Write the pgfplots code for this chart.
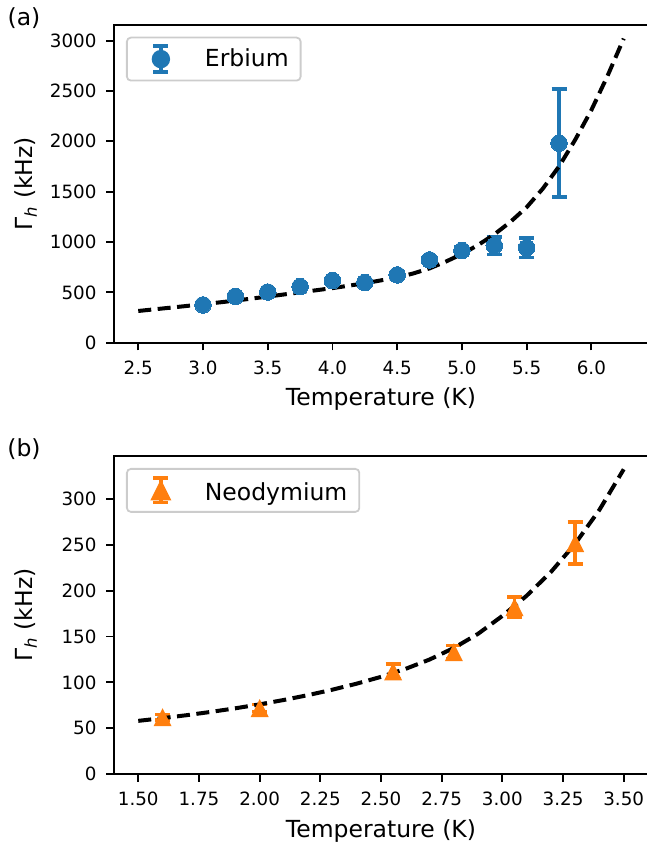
\documentclass[border=0pt]{standalone}
\usepackage{fontspec}
\setmainfont{DejaVu Sans}
\usepackage{pgfplots}
\usepackage{pgfplotstable}
\pgfplotsset{compat=1.18}
\definecolor{c0}{HTML}{1F77B4}
\definecolor{c1}{HTML}{FF7F0E}
\pgfdeclareplotmark{mtri}{%
 \pgfpathmoveto{\pgfqpoint{0pt}{\pgfplotmarksize}}%
 \pgfpathlineto{\pgfqpoint{-\pgfplotmarksize}{-\pgfplotmarksize}}%
 \pgfpathlineto{\pgfqpoint{\pgfplotmarksize}{-\pgfplotmarksize}}%
 \pgfpathclose\pgfusepathqfill}
\newcommand\tickfont{\fontsize{18.3}{20}\selectfont}
\newcommand\labfont{\fontsize{23.5}{26}\selectfont}

\pgfplotstableread{
x y e
3.00 375 25
3.25 460 25
3.50 503 25
3.75 557 30
4.00 617 30
4.25 597 30
4.50 673 30
4.75 822 35
5.00 915 40
5.25 963 85
5.50 943 95
5.75 1982 537
}\erbium
\pgfplotstableread{
x y
2.5 315
2.75 348
3.0 382
3.25 418
3.5 458
3.75 500
4.0 542
4.25 590
4.5 648
4.625 688
4.75 738
4.875 805
5.0 880
5.125 970
5.25 1075
5.375 1200
5.5 1345
5.625 1530
5.75 1750
5.875 2015
6.0 2310
6.125 2650
6.25 3020
}\erfit
\pgfplotstableread{
x y e
1.60 62 3
2.00 72 4
2.55 112 8
2.80 133 7
3.05 182 11
3.30 252 23
}\neod
\pgfplotstableread{
x y
1.5 58
1.6 60.9
1.7 64.2
1.8 67.8
1.9 71.7
2.0 76
2.1 80.8
2.2 86.1
2.3 92
2.4 98.6
2.5 106
2.6 114.6
2.7 124.9
2.8 137.5
2.9 153
3.0 172.5
3.1 194.5
3.2 220.4
3.3 251.3
3.4 288.3
3.5 332.5
}\ndfit

\pgfplotsset{panel/.style={
  scale only axis, width=534pt, height=318pt,
  axis line style={line width=1.8pt},
  tick align=outside, xtick pos=left, ytick pos=left,
  major tick length=7.7pt,
  every tick/.style={line width=1.8pt, black},
  ticklabel style={font=\tickfont},
  xticklabel style={inner sep=0pt, anchor=north},
  yticklabel style={inner sep=0pt, anchor=east},
  xticklabel shift=10.3pt, yticklabel shift=9.6pt,
  label style={font=\labfont},
  xlabel style={at={(axis description cs:0.5,-0.1415)}, anchor=north, inner sep=0pt},
  ylabel style={at={(axis description cs:-0.1648,0.5)}, anchor=center, inner sep=0pt},
  xlabel={Temperature (K)},
  ylabel={Γ\textsubscript{\textit{h}} (kHz)},
  legend style={at={(axis description cs:0,1)}, anchor=north west, xshift=12pt, yshift=-12pt,
    draw=black!20, line width=1.8pt, rounded corners=4pt, fill=white, fill opacity=0.8,
    text opacity=1, inner xsep=12pt, inner ysep=0pt, column sep=6pt, font=\labfont,
    nodes={inner sep=0pt}},
  legend cell align=left,
 }}

\begin{document}
\begin{tikzpicture}[x=1pt,y=1pt]
\begin{axis}[panel, at={(114pt,501.3pt)}, anchor=south west,
  xmin=2.3125, xmax=6.4375, ymin=0, ymax=3158,
  xtick={2.5,3,...,6}, xticklabels={2.5,3.0,3.5,4.0,4.5,5.0,5.5,6.0},
  ytick={0,500,...,3000}, yticklabels={0,500,1000,1500,2000,2500,3000}]
\addplot[only marks, mark=*, mark size=8.3pt, color=c0, mark options={fill=c0, draw=c0, line width=0pt},
  legend image code/.code={%
  \begin{scope}[sharp corners, fill opacity=1, draw opacity=1, yshift=-0.36pt]
  \path[draw=none, fill=none] (0pt,-21.5pt) rectangle (60pt,21.5pt);
  \draw[c0, line width=3.5pt] (22pt,-13pt) -- (22pt,13pt) (14.5pt,-13pt) -- (29.5pt,-13pt) (14.5pt,13pt) -- (29.5pt,13pt);
  \fill[c0] (22pt,0pt) circle (8.3pt);
  \end{scope}},
  error bars/.cd, y dir=both, y explicit,
  error bar style={line width=3.5pt, c0},
  error mark options={rotate=90, mark size=7.5pt, line width=3.5pt, c0},
  ] table[x=x, y=y, y error=e] {\erbium};
\addlegendentry{Erbium}
\addplot[black, line width=4pt, dash pattern=on 13pt off 6.5pt, forget plot] table[x=x,y=y] {\erfit};
\end{axis}

\begin{axis}[panel, at={(114pt,70pt)}, anchor=south west,
  xmin=1.4, xmax=3.6, ymin=0, ymax=347,
  xtick={1.5,1.75,...,3.5}, xticklabels={1.50,1.75,2.00,2.25,2.50,2.75,3.00,3.25,3.50},
  ytick={0,50,...,300}, yticklabels={0,50,100,150,200,250,300}]
\addplot[only marks, mark=mtri, mark size=9pt, color=c1, mark options={fill=c1, draw=c1, line width=0pt},
  legend image code/.code={%
  \begin{scope}[sharp corners, fill opacity=1, draw opacity=1, yshift=2.4pt]
  \path[draw=none, fill=none] (0pt,-21.5pt) rectangle (60pt,21.5pt);
  \draw[c1, line width=3.5pt] (22pt,-12.2pt) -- (22pt,12.2pt) (14.5pt,-12.2pt) -- (29.5pt,-12.2pt) (14.5pt,12.2pt) -- (29.5pt,12.2pt);
  \fill[c1] (22pt,9pt) -- (13pt,-9pt) -- (31pt,-9pt) -- cycle;
  \end{scope}},
  error bars/.cd, y dir=both, y explicit,
  error bar style={line width=3.5pt, c1},
  error mark options={rotate=90, mark size=7.5pt, line width=3.5pt, c1},
  ] table[x=x, y=y, y error=e] {\neod};
\addlegendentry{Neodymium}
\addplot[black, line width=4pt, dash pattern=on 13pt off 6.5pt, forget plot] table[x=x,y=y] {\ndfit};
\end{axis}

\node[font=\labfont, inner sep=0pt] at (24pt,825.5pt) {(a)};
\node[font=\labfont, inner sep=0pt] at (24pt,395pt) {(b)};
\pgfresetboundingbox
\useasboundingbox (0pt,0pt) rectangle (646pt,844pt);
\end{tikzpicture}
\end{document}
